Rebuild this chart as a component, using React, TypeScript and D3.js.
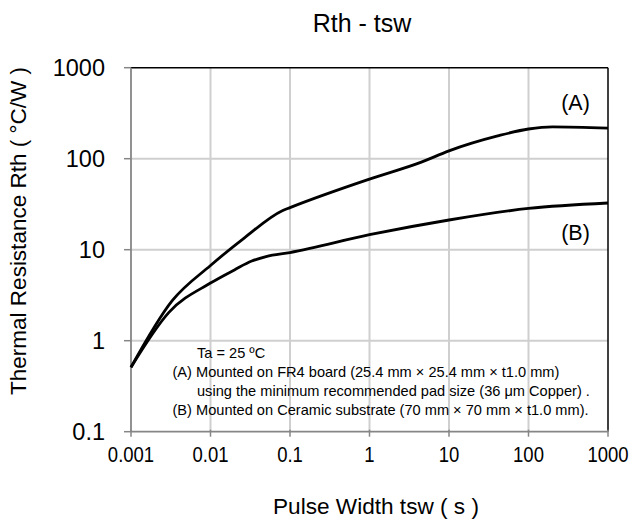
import React from "react";
import * as d3 from "d3";

const xTicks = [0.001, 0.01, 0.1, 1, 10, 100, 1000];
const yTicks = [0.1, 1, 10, 100, 1000];
const xTickLabels = ["0.001", "0.01", "0.1", "1", "10", "100", "1000"];
const yTickLabels = ["0.1", "1", "10", "100", "1000"];

const seriesA_x = [0.001, 0.0033, 0.01, 0.027, 0.08, 0.1, 1, 4.4, 10, 41, 100, 200, 1000];
const seriesA_y = [0.51, 2.75, 6.7, 13.6, 26.8, 29, 59.7, 91, 122, 178, 212, 224, 217];
const seriesB_x = [0.001, 0.003, 0.01, 0.02, 0.033, 0.05, 0.1, 1, 10, 100, 1000];
const seriesB_y = [0.51, 2.05, 4.3, 6.0, 7.5, 8.4, 9.3, 14.6, 21.2, 28.4, 32.6];

const notes = [
  "Ta = 25 ºC",
  "(A) Mounted on FR4 board (25.4 mm × 25.4 mm × t1.0 mm)",
  "using the minimum recommended pad size (36 μm Copper) .",
  "(B) Mounted on Ceramic substrate (70 mm × 70 mm × t1.0 mm).",
];

function SText(props: { x: number; y: number; sy?: number; size: number; anchor?: string; children: React.ReactNode }) {
  const { x, y, sy = 1, size, anchor = "start", children } = props;
  return (
    <g transform={`translate(${x},${y}) scale(1,${sy})`}>
      <text x={0} y={0} fontSize={size} textAnchor={anchor} fill="#000">
        {children}
      </text>
    </g>
  );
}

export default function App() {
  const W = 629, H = 522;
  const left = 131, right = 608, top = 67.7, bottom = 431.7;
  const x = d3.scaleLog().domain([0.001, 1000]).range([left, right]);
  const y = d3.scaleLog().domain([0.1, 1000]).range([bottom, top]);
  const line = d3
    .line<[number, number]>()
    .x((d) => x(d[0]))
    .y((d) => y(d[1]))
    .curve(d3.curveMonotoneX);
  const A = seriesA_x.map((v, i) => [v, seriesA_y[i]] as [number, number]);
  const B = seriesB_x.map((v, i) => [v, seriesB_y[i]] as [number, number]);
  const font = "'Liberation Sans', Arial, sans-serif";
  const grid = "#cfcfcf";
  const axis = "#868686";

  return (
    <svg width={W} height={H} style={{ position: "absolute", left: 0, top: 0, background: "#fff" }} fontFamily={font}>
      <rect x={0} y={0} width={W} height={H} fill="#fff" />
      {xTicks.slice(1, -1).map((t) => (
        <line key={"gx" + t} x1={x(t)} x2={x(t)} y1={top} y2={bottom} stroke={grid} strokeWidth={2} />
      ))}
      {yTicks.slice(1, -1).map((t) => (
        <line key={"gy" + t} x1={left} x2={right} y1={y(t)} y2={y(t)} stroke={grid} strokeWidth={2} />
      ))}
      <line x1={left} x2={right} y1={top} y2={top} stroke="#000" strokeWidth={1.5} />
      <line x1={right} x2={right} y1={top} y2={bottom} stroke="#000" strokeWidth={1.5} />
      <line x1={left} x2={left} y1={top} y2={bottom} stroke={axis} strokeWidth={1.8} />
      <line x1={left} x2={right} y1={bottom} y2={bottom} stroke={axis} strokeWidth={1.8} />
      {yTicks.map((t, i) => (
        <g key={"ty" + t}>
          <line x1={left - 7} x2={left} y1={y(t)} y2={y(t)} stroke={axis} strokeWidth={1.5} />
          <SText x={105} y={y(t) + 8} size={23.5} anchor="end">{yTickLabels[i]}</SText>
        </g>
      ))}
      {xTicks.map((t, i) => (
        <g key={"tx" + t}>
          <line x1={x(t)} x2={x(t)} y1={bottom - 2} y2={bottom + 5} stroke={axis} strokeWidth={1.5} />
          <SText x={x(t)} y={462} sy={1.15} size={18.5} anchor="middle">{xTickLabels[i]}</SText>
        </g>
      ))}
      <path d={line(A) || ""} fill="none" stroke="#000" strokeWidth={2.8} strokeLinejoin="round" />
      <path d={line(B) || ""} fill="none" stroke="#000" strokeWidth={2.8} strokeLinejoin="round" />
      <SText x={575.5} y={110} size={21.5} anchor="middle">(A)</SText>
      <SText x={575.5} y={240} size={21.5} anchor="middle">(B)</SText>
      <SText x={197} y={358} size={14.6}>{notes[0]}</SText>
      <SText x={172.5} y={377} size={14.6}>{notes[1]}</SText>
      <SText x={197} y={396} size={14.6}>{notes[2]}</SText>
      <SText x={172.5} y={415} size={14.6}>{notes[3]}</SText>
      <SText x={362} y={31.5} size={25} anchor="middle">Rth - tsw</SText>
      <SText x={376} y={514} size={22.6} anchor="middle">Pulse Width tsw ( s )</SText>
      <text transform={`translate(18,231) rotate(-90)`} dy="0.35em" textAnchor="middle" fontSize={22.5}>
        Thermal Resistance Rth ( °C/W )
      </text>
    </svg>
  );
}
